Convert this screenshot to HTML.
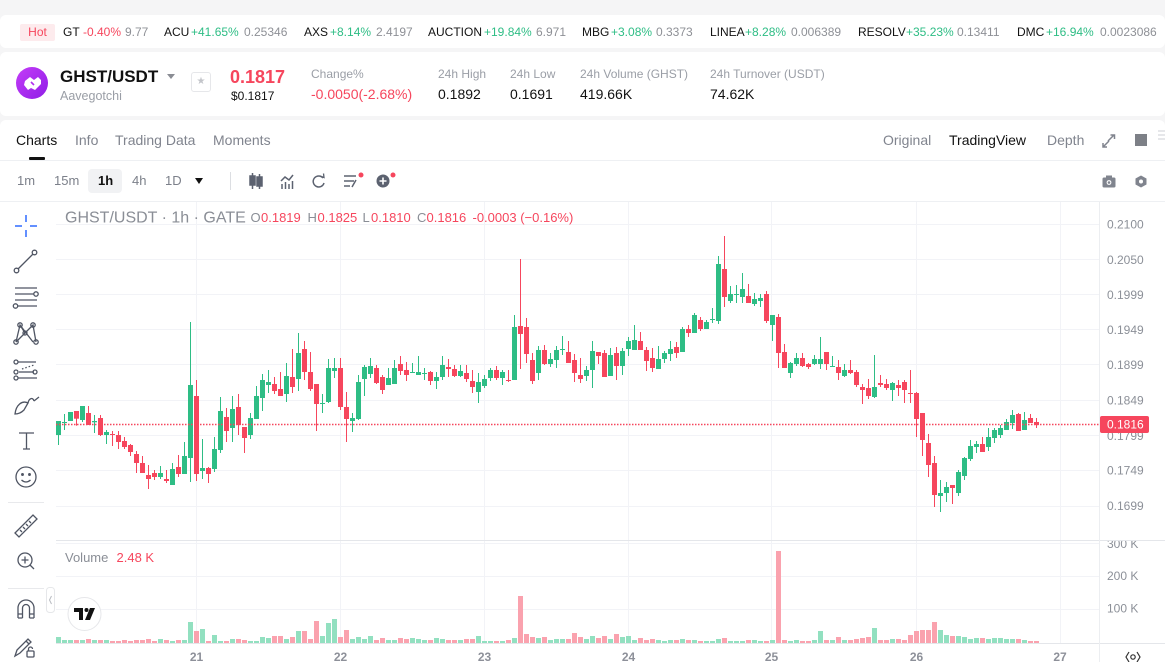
<!DOCTYPE html>
<html><head><meta charset="utf-8">
<style>
*{margin:0;padding:0;box-sizing:border-box}
body{width:1165px;height:662px;overflow:hidden;background:#f5f5f6;font-family:"Liberation Sans",sans-serif;position:relative;color:#111}
.a{position:absolute;white-space:nowrap}
.tk{font-size:12px;line-height:14px;top:25px}
.s{color:#121212}.r{color:#f6465d}.g{color:#2ebd85}.p{color:#8e9096}
.lb{font-size:12px;line-height:14px;color:#9a9ea6}
.vl{font-size:14px;line-height:16px;color:#111}
.tab{font-size:14px;line-height:16px;top:132px;color:#80848e}
.tb{font-size:13px;line-height:14px;top:174px;color:#7c808a}
</style></head>
<body>
<!-- ticker bar -->
<div class="a" style="left:0;top:15px;width:1165px;height:33px;background:#fff;border-radius:6px"></div>
<div class="a" style="left:20px;top:24px;width:35px;height:17px;background:#fdebed;border-radius:2px;color:#f6465d;font-size:12px;line-height:17px;text-align:center">Hot</div>
<span class="a tk s" style="left:63px">GT</span><span class="a tk r" style="left:83px">-0.40%</span><span class="a tk p" style="left:125px">9.77</span>
<span class="a tk s" style="left:164px">ACU</span><span class="a tk g" style="left:191px">+41.65%</span><span class="a tk p" style="left:244px">0.25346</span>
<span class="a tk s" style="left:304px">AXS</span><span class="a tk g" style="left:330px">+8.14%</span><span class="a tk p" style="left:376px">2.4197</span>
<span class="a tk s" style="left:428px">AUCTION</span><span class="a tk g" style="left:484px">+19.84%</span><span class="a tk p" style="left:536px">6.971</span>
<span class="a tk s" style="left:582px">MBG</span><span class="a tk g" style="left:611px">+3.08%</span><span class="a tk p" style="left:656px">0.3373</span>
<span class="a tk s" style="left:710px">LINEA</span><span class="a tk g" style="left:745px">+8.28%</span><span class="a tk p" style="left:791px">0.006389</span>
<span class="a tk s" style="left:858px">RESOLV</span><span class="a tk g" style="left:906px">+35.23%</span><span class="a tk p" style="left:957px">0.13411</span>
<span class="a tk s" style="left:1017px">DMC</span><span class="a tk g" style="left:1046px">+16.94%</span><span class="a tk p" style="left:1100px">0.0023086</span>

<!-- header -->
<div class="a" style="left:0;top:52px;width:1165px;height:64px;background:#fff;border-radius:6px"></div>
<div class="a" style="left:16px;top:67px;width:32px;height:32px;border-radius:50%;background:linear-gradient(135deg,#c43cf8,#8f1ee6)"></div>
<svg class="a" style="left:16px;top:67px" width="32" height="32" viewBox="0 0 32 32"><path d="M9 14 L14 10 L18 13 L22 10 L25 13 L25 17 L19 23 L15 21 L12 23 L8 18 Z" fill="#fff"/><path d="M15 15 L18 18" stroke="#b22ff0" stroke-width="1.6"/></svg>
<span class="a" style="left:60px;top:67px;font-size:17px;line-height:20px;font-weight:bold;color:#111">GHST/USDT</span>
<div class="a" style="left:167px;top:74px;width:0;height:0;border-left:4px solid transparent;border-right:4px solid transparent;border-top:5px solid #8a8d94"></div>
<span class="a" style="left:60px;top:89px;font-size:12.5px;line-height:14px;color:#9a9ea6">Aavegotchi</span>
<div class="a" style="left:191px;top:72px;width:20px;height:20px;border:1px solid #e6e7ea;border-radius:3px;color:#c3c5ca;font-size:10px;line-height:18px;text-align:center">★</div>
<span class="a" style="left:230px;top:66px;font-size:18px;line-height:22px;font-weight:bold;color:#f6465d">0.1817</span>
<span class="a" style="left:231px;top:89px;font-size:12px;line-height:14px;color:#111">$0.1817</span>
<span class="a lb" style="left:311px;top:67px">Change%</span>
<span class="a vl" style="left:311px;top:86px;color:#f6465d">-0.0050(-2.68%)</span>
<span class="a lb" style="left:438px;top:67px">24h High</span><span class="a vl" style="left:438px;top:86px">0.1892</span>
<span class="a lb" style="left:510px;top:67px">24h Low</span><span class="a vl" style="left:510px;top:86px">0.1691</span>
<span class="a lb" style="left:580px;top:67px">24h Volume (GHST)</span><span class="a vl" style="left:580px;top:86px">419.66K</span>
<span class="a lb" style="left:710px;top:67px">24h Turnover (USDT)</span><span class="a vl" style="left:710px;top:86px">74.62K</span>

<!-- chart card -->
<div class="a" style="left:0;top:120px;width:1165px;height:542px;background:#fff;border-radius:6px 6px 0 0"></div>
<span class="a tab" style="left:16px;color:#111">Charts</span>
<div class="a" style="left:29px;top:157px;width:16px;height:3px;background:#111;border-radius:1px"></div>
<span class="a tab" style="left:75px">Info</span>
<span class="a tab" style="left:115px">Trading Data</span>
<span class="a tab" style="left:213px">Moments</span>
<span class="a tab" style="left:883px">Original</span>
<span class="a tab" style="left:949px;color:#111">TradingView</span>
<span class="a tab" style="left:1047px">Depth</span>
<div class="a" style="left:0;top:160px;width:1165px;height:1px;background:#eef0f3"></div>

<div class="a" style="left:88px;top:169px;width:34px;height:24px;background:#f1f2f4;border-radius:4px"></div>
<span class="a tb" style="left:17px">1m</span>
<span class="a tb" style="left:54px">15m</span>
<span class="a tb" style="left:98px;color:#111;font-weight:bold">1h</span>
<span class="a tb" style="left:132px">4h</span>
<span class="a tb" style="left:165px">1D</span>
<div class="a" style="left:195px;top:178px;width:0;height:0;border-left:4.5px solid transparent;border-right:4.5px solid transparent;border-top:6px solid #111"></div>
<div class="a" style="left:230px;top:172px;width:1px;height:18px;background:#dcdee2"></div>
<div class="a" style="left:0;top:201px;width:1165px;height:1px;background:#eef0f3"></div>

<svg class="a" style="left:0;top:0" width="1165" height="662" viewBox="0 0 1165 662">
<g fill="none" stroke="#5c6270" stroke-width="1.5">
 <!-- candles icon -->
 <line x1="252.5" y1="173" x2="252.5" y2="189"/><rect x="250" y="176" width="5" height="9" fill="#5c6270"/>
 <line x1="259.5" y1="174" x2="259.5" y2="189"/><rect x="257" y="177" width="5" height="9" fill="#5c6270"/>
 <!-- bars + line -->
 <path d="M281 181 L285 177 L289 180 L293 175"/>
 <line x1="282" y1="189" x2="282" y2="184"/><line x1="285.5" y1="189" x2="285.5" y2="182"/><line x1="289" y1="189" x2="289" y2="184"/><line x1="292.5" y1="189" x2="292.5" y2="181"/>
 <!-- refresh -->
 <path d="M323 178 A5.5 5.5 0 1 0 324 183"/><path d="M320 176 L324 177.5 L323.5 173.5" stroke-width="1.3"/>
 <!-- indicator -->
 <line x1="344" y1="176" x2="356" y2="176"/><line x1="344" y1="181" x2="354" y2="181"/><line x1="344" y1="186" x2="350" y2="186"/><path d="M352 187 L356 180"/>
</g>
<circle cx="361" cy="175" r="2.5" fill="#f6465d"/>
<circle cx="383" cy="181" r="6.5" fill="#5c6270"/><path d="M383 177.5 V184.5 M379.5 181 H386.5" stroke="#fff" stroke-width="1.6"/>
<circle cx="393" cy="175" r="2.5" fill="#f6465d"/>
<!-- top right icons -->
<g stroke="#80848e" stroke-width="1.5" fill="none"><path d="M1108 141 L1114 135 M1110.5 135 H1114.5 V139 M1109 141 L1103 147 M1103 143 V147 H1107"/></g>
<rect x="1135" y="134" width="12" height="12" fill="#7d8087"/>
<g stroke="#d5d7db" stroke-width="1.2"><line x1="1158" y1="131" x2="1165" y2="131"/><line x1="1158" y1="135" x2="1165" y2="135"/><line x1="1158" y1="139" x2="1165" y2="139"/></g>
<!-- camera & gear -->
<rect x="1102.5" y="177.5" width="13" height="10" rx="1.5" fill="#80848e"/><rect x="1106" y="175.5" width="6" height="3" fill="#80848e"/><circle cx="1109" cy="182.5" r="2.4" fill="#fff"/><circle cx="1109" cy="182.5" r="1.3" fill="#80848e"/>
<path d="M1141 175.5 L1146.5 178.5 L1146.5 184.5 L1141 187.5 L1135.5 184.5 L1135.5 178.5 Z" fill="#80848e"/><circle cx="1141" cy="181.5" r="2" fill="#fff"/>

<!-- left tools -->
<g stroke="#2f6bff" stroke-width="1.5"><line x1="26" y1="215" x2="26" y2="222"/><line x1="26" y1="230" x2="26" y2="237"/><line x1="15" y1="226" x2="22" y2="226"/><line x1="30" y1="226" x2="37" y2="226"/></g>
<g stroke="#4f5563" stroke-width="1.3" fill="none">
 <line x1="18" y1="269" x2="33" y2="254"/><circle cx="16.5" cy="270.5" r="2.3"/><circle cx="34.5" cy="252.5" r="2.3"/>
 <line x1="15" y1="288" x2="37" y2="288"/><line x1="15" y1="294" x2="34" y2="294"/><line x1="15" y1="300" x2="37" y2="300"/><line x1="18" y1="306" x2="37" y2="306"/><circle cx="36" cy="294" r="2.2"/><circle cx="15.5" cy="306" r="2.2"/>
 <path d="M16 342 L20 325 L25 333 L33 325 L36 342 M20 325 L33 342 M16 342 L33 325"/><circle cx="16" cy="342" r="2.2"/><circle cx="20" cy="325" r="2.2"/><circle cx="33" cy="325" r="2.2"/><circle cx="36" cy="342" r="2.2"/><circle cx="25" cy="333" r="2"/>
 <line x1="18" y1="362" x2="36" y2="362"/><line x1="19" y1="372" x2="34" y2="372"/><line x1="18" y1="378" x2="37" y2="378"/><line x1="22" y1="369" x2="34" y2="365" stroke-dasharray="1.5 2"/><circle cx="16" cy="362" r="2"/><circle cx="16" cy="372" r="2"/><circle cx="35" cy="372" r="2"/><circle cx="16" cy="378" r="2"/>
 <path d="M15 414 C16 405 22 400 28 403 L24 410 C21 413 18 414 15 414 Z M28 403 C29 398 33 397 34 401 M34 401 L39 397"/>
 <path d="M19 433 H34 M26.5 433 V449 M23 449 H30"/>
 <circle cx="26" cy="477" r="10"/><path d="M21.5 480 Q26 484 30.5 480"/><circle cx="22.5" cy="474.5" r="0.8" fill="#4f5563"/><circle cx="29.5" cy="474.5" r="0.8" fill="#4f5563"/>
 <path d="M15 533 L33 515 L37 519 L19 537 Z M20 530 L22 532 M23 527 L25 529 M26 524 L28 526 M29 521 L31 523"/>
 <circle cx="25" cy="560" r="7"/><path d="M25 556.5 V563.5 M21.5 560 H28.5 M30 565 L34 569"/>
 <path d="M18 618 V608 A8 8 0 0 1 34 608 V618 M22.5 618 V608 A3.5 3.5 0 0 1 29.5 608 V618 M18 614 H22.5 M29.5 614 H34 M18 618 H22.5 M29.5 618 H34"/>
 <path d="M15 656 L17 650 L28 639 L31 642 L20 653 Z M26 641 L29 644"/><rect x="27" y="651" width="7" height="6" rx="1"/><path d="M28.5 651 V649 A2 2 0 0 1 32.5 649"/>
</g>
<line x1="8" y1="502.5" x2="44" y2="502.5" stroke="#e8e9ec"/>
<line x1="8" y1="588.5" x2="44" y2="588.5" stroke="#e8e9ec"/>
<rect x="46.5" y="587.5" width="8" height="25" rx="3" fill="#fff" stroke="#e6e7ea"/>
<path d="M51.5 596 L49.5 600 L51.5 604" stroke="#b8bbc1" fill="none"/>

<!-- grid -->
<g stroke="#f2f3f7" stroke-width="1">
 <line x1="56" y1="224.5" x2="1099" y2="224.5"/><line x1="56" y1="259.5" x2="1099" y2="259.5"/><line x1="56" y1="294.5" x2="1099" y2="294.5"/><line x1="56" y1="329.5" x2="1099" y2="329.5"/><line x1="56" y1="364.5" x2="1099" y2="364.5"/><line x1="56" y1="400.5" x2="1099" y2="400.5"/><line x1="56" y1="435.5" x2="1099" y2="435.5"/><line x1="56" y1="470.5" x2="1099" y2="470.5"/><line x1="56" y1="506.5" x2="1099" y2="506.5"/>
 <line x1="56" y1="543.5" x2="1099" y2="543.5"/><line x1="56" y1="576.5" x2="1099" y2="576.5"/><line x1="56" y1="609.5" x2="1099" y2="609.5"/>
 <line x1="196.5" y1="202" x2="196.5" y2="643"/><line x1="340.5" y1="202" x2="340.5" y2="643"/><line x1="484.5" y1="202" x2="484.5" y2="643"/><line x1="628.5" y1="202" x2="628.5" y2="643"/><line x1="771.5" y1="202" x2="771.5" y2="643"/><line x1="916.5" y1="202" x2="916.5" y2="643"/><line x1="1060.5" y1="202" x2="1060.5" y2="643"/>
</g>
<line x1="56" y1="540.5" x2="1165" y2="540.5" stroke="#e4e6ea"/>
<line x1="56" y1="643.5" x2="1165" y2="643.5" stroke="#e4e6ea"/>
<line x1="1099.5" y1="202" x2="1099.5" y2="662" stroke="#eceef1"/>

<g id="cd"></g>
<line x1="56" y1="424.5" x2="1099" y2="424.5" stroke="#f6465d" stroke-width="1.5" stroke-dasharray="1.5 1.5"/>

<!-- axis labels -->
<g font-family="Liberation Sans, sans-serif" font-size="12" fill="#8c9098">
 <text x="1107" y="228.5">0.2100</text><text x="1107" y="264">0.2050</text><text x="1107" y="299">0.1999</text><text x="1107" y="334">0.1949</text><text x="1107" y="369">0.1899</text><text x="1107" y="404.5">0.1849</text><text x="1107" y="440">0.1799</text><text x="1107" y="474.5">0.1749</text><text x="1107" y="510">0.1699</text>
 <text x="1107" y="580">200 K</text><text x="1107" y="612.5">100 K</text>
</g>
<clipPath id="vc"><rect x="1100" y="541" width="65" height="20"/></clipPath>
<text x="1107" y="548" font-family="Liberation Sans, sans-serif" font-size="12" fill="#8c9098" clip-path="url(#vc)">300 K</text>
<rect x="1100" y="416" width="49" height="17" rx="2" fill="#f6465d"/>
<text x="1107" y="428.5" font-family="Liberation Sans, sans-serif" font-size="12" fill="#fff">0.1816</text>
<g font-family="Liberation Sans, sans-serif" font-size="12" font-weight="bold" fill="#8d9099" text-anchor="middle">
 <text x="196.5" y="661">21</text><text x="340.5" y="661">22</text><text x="484.5" y="661">23</text><text x="628.5" y="661">24</text><text x="771.5" y="661">25</text><text x="916.5" y="661">26</text><text x="1060" y="661">27</text>
</g>
<path d="M1129 652 L1126 657 L1129 662 M1137 652 L1140 657 L1137 662" stroke="#333" stroke-width="1.2" fill="none"/><circle cx="1133" cy="657" r="2.2" stroke="#333" stroke-width="1.2" fill="none"/>

<!-- legend -->
<g font-family="Liberation Sans, sans-serif">
 <text x="65" y="222.5" font-size="16" fill="#8a8e96">GHST/USDT · 1h · GATE</text>
 <g font-size="13" fill="#f6465d">
  <text x="250.5" y="222" fill="#8a8e96">O</text><text x="261" y="222">0.1819</text>
  <text x="307.5" y="222" fill="#8a8e96">H</text><text x="317.5" y="222">0.1825</text>
  <text x="362.5" y="222" fill="#8a8e96">L</text><text x="371" y="222">0.1810</text>
  <text x="417" y="222" fill="#8a8e96">C</text><text x="426.5" y="222">0.1816</text>
  <text x="472.5" y="222">-0.0003 (−0.16%)</text>
 </g>
 <text x="65" y="562" font-size="13" fill="#8a8e96">Volume</text>
 <text x="116.5" y="562" font-size="13" fill="#f6465d">2.48 K</text>
</g>
<!-- TV logo -->
<circle cx="84.5" cy="614" r="16.5" fill="#fff" stroke="#e6e7ea"/>
<path d="M74 608 H83 V620 H79 V612 H74 Z" fill="#111"/><circle cx="86.5" cy="610" r="2" fill="#111"/><path d="M90 608 H95 L90 620 H85 Z" fill="#111"/>
</svg>

<script>
(function(){
var G='#2ebd85',R='#f6465d',GV='#92e0c0',RV='#faa2ae';
var segs=[
[310,"g333,375,333,405;g336,339,312,360;g306,333,306,333;r303,326,303,347;g288,330,288,336;r309,345,288,345;g333,337,315,369;r324,375,315,378;g366,375,360,402;r372,374,363,408;r375,396,363,417;r393,411,381,417;r405,426,402,438;r432,459,423,489;r459,489,438,489;r495,507,465,537;r489,501,480,510;g489,501,468,507;r507,513,480,519;g477,525,459,525;r471,492,435,501;g438,492,396,492;g225,444,36,516;r258,492,210,513;g474,483,387,507;r474,492,471,519;g417,477,381,486;g303,420,261,429;r321,363,294,396;g297,354,258,396;r291,345,252,375;r351,384,351,429;g324,375,309,387;g258,327,228,327;g210,264,192,303;g216,225,180,249;r222,243,201,252;r237,258,186,258;g198,252,159,276;r201,231,117,249;g129,207,69,243;r117,186,93,210"],
[250,"r366,417,306,423;r402,462,402,543;g459,461,432,489;g354,456,327,459;g354,363,324,384;r354,471,324,480;r471,507,426,576;g504,513,489,546;g396,507,375,510;g351,387,345,438;g348,372,324,384;r354,399,345,402;r381,420,375,432;g384,405,354,405;g354,402,330,402;r342,363,318,375;r360,375,336,393;g366,369,339,369;g366,375,318,375;g369,372,354,390;r366,393,363,405;g381,393,366,417;g345,381,318,390;r351,357,327,381;r357,378,345,381;g363,378,345,381;r369,387,345,396;r393,411,360,429;g396,426,369,459;g387,408,375,414;g360,384,354,393;r360,384,348,390;g366,384,360,405;r390,393,360,396;g231,390,195,390;r228,252,27,357;r231,312,204,339;r330,393,309,402;g300,369,288,390;r300,342,285,345;g327,342,309,351;g300,330,288,354"],
[230,"g357,359,318,375;r366,399,333,399;r390,429,372,456;r435,447,384,459;g420,438,408,453;g363,420,333,474;r366,378,366,402;r369,441,360,441;g375,438,354,438;r369,408,351,450;g363,408,354,435;g333,357,321,378;g330,360,285,360;r333,360,306,360;r360,393,351,423;r384,414,354,426;g387,417,348,417;g369,387,363,399;g357,372,333,393;r351,369,336,384;g297,366,291,366;r297,309,285,321;g255,309,249,309;r270,297,261,303;g276,297,270,297;g267,270,234,279;g102,273,78,282;r117,201,18,231;g192,213,168,219;g192,195,165,219;g177,201,129,219;r198,219,162,219;g207,222,189,228;g204,213,192,231;r192,273,183,279;g255,285,255,333;r261,369,252,414;r366,414,342,414;g399,429,396,444;g384,402,369,408;r384,408,369,411;r402,411,399,417"],
[330,"g87,102,75,105;g87,102,21,117;r66,102,66,120;g108,110,78,111;r111,129,90,150;g120,138,102,141;r120,129,90,132;r126,165,120,171;r171,180,162,222;r174,198,147,207;g171,201,75,204;r159,165,135,171;r162,174,147,180;g159,180,156,213;r165,174,150,198;r156,180,150,219;r189,191,120,219;r189,267,186,321;r249,330,249,378;r339,405,312,441;r399,495,378,531;g489,498,450,546;g471,489,456,516;r465,474,465,522;g426,489,420,498;g384,438,381,450;g348,387,330,393;g342,351,333,369;r342,366,321,366;g321,351,294,363;g300,324,294,339;g294,315,285,324;g276,300,267,300;g255,279,240,297;r252,303,249,303;g270,300,246,300;r264,279,252,279;r276,285,264,294"]
];
var V=[291,300,300,300,300,297,300,300,300,303,303,300,303,300,300,297,303,297,300,303,300,300,246,273,267,303,285,303,303,297,297,300,303,303,291,294,288,288,297,291,273,273,297,243,288,249,237,291,270,297,291,297,288,300,294,300,300,294,297,294,297,300,300,294,297,300,300,300,297,297,288,303,303,303,303,300,294,168,282,291,294,291,
300,297,297,297,279,291,297,288,294,288,297,282,291,288,300,294,300,297,300,303,300,300,297,300,300,303,303,303,297,294,303,303,303,300,300,303,303,300,33,300,303,300,303,303,300,273,300,300,291,300,300,297,294,291,264,300,300,297,297,300,285,273,270,270,246,270,285,288,288,291,297,294,294,297,294,294,297,297,297,300,303,303];
var out='',k=0;
segs.forEach(function(sg){
 var y0=sg[0];
 sg[1].split(';').forEach(function(s){
  var c=s[0]==='g',n=s.slice(1).split(',').map(Number);
  var bt=y0+n[0]/3,bb=y0+n[1]/3,wt=y0+n[2]/3,wb=y0+n[3]/3;
  var x=56+6*k,col=c?G:R;
  var v=540+V[k]/3;
  out+='<rect x="'+x+'" y="'+v.toFixed(1)+'" width="5" height="'+(643-v).toFixed(1)+'" fill="'+(c?GV:RV)+'"/>';
  out+='<rect x="'+(x+2)+'" y="'+wt.toFixed(1)+'" width="1" height="'+Math.max(1,wb-wt).toFixed(1)+'" fill="'+col+'"/>';
  out+='<rect x="'+x+'" y="'+bt.toFixed(1)+'" width="5" height="'+Math.max(1,bb-bt).toFixed(1)+'" fill="'+col+'"/>';
  k++;
 });
});
document.getElementById('cd').innerHTML=out;
})();
</script>
</body></html>
